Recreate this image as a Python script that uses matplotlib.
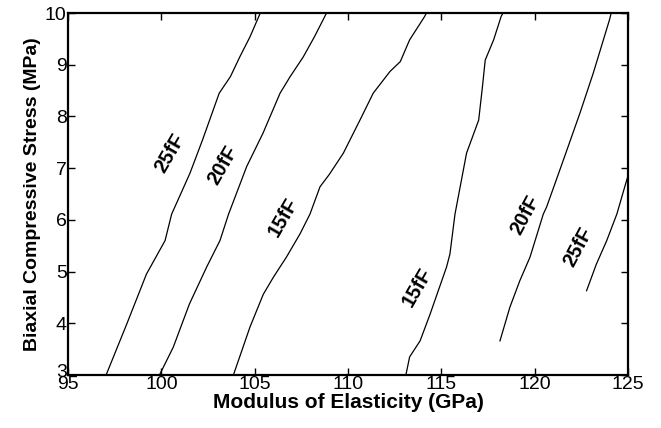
import matplotlib
matplotlib.use("Agg")
import matplotlib.pyplot as plt
from matplotlib.transforms import ScaledTranslation

plt.rcParams["font.family"] = ["Liberation Sans", "DejaVu Sans"]

# contour lines: (modulus GPa, stress MPa)
left_25_x = [97.04, 98.14, 99.2, 100.2, 100.55, 101.53, 102.2, 103.1, 103.7, 104.2, 104.75, 105.3]
left_25_y = [3.0, 3.98, 4.95, 5.6, 6.11, 6.90, 7.54, 8.45, 8.77, 9.15, 9.54, 10.0]

left_20_x = [99.9, 100.64, 101.5, 102.43, 103.14, 103.6, 104.57, 105.45, 106.36, 106.9, 107.6, 108.2, 108.85]
left_20_y = [3.0, 3.54, 4.37, 5.09, 5.6, 6.11, 7.03, 7.68, 8.45, 8.77, 9.15, 9.54, 10.0]

left_15_x = [103.86, 104.75, 105.46, 106.0, 106.7, 107.43, 107.96, 108.5, 109.0, 109.75, 110.64,
             111.35, 112.25, 112.8, 113.3, 114.1, 114.2]
left_15_y = [3.0, 3.93, 4.56, 4.89, 5.28, 5.73, 6.11, 6.64, 6.88, 7.29, 7.93,
             8.45, 8.87, 9.06, 9.48, 9.93, 10.0]

right_15_x = [113.1, 113.3, 113.86, 114.4, 115.28, 115.46, 115.73, 116.35, 117.0, 117.2, 117.35,
              117.8, 118.2, 118.3]
right_15_y = [3.0, 3.35, 3.66, 4.18, 5.09, 5.34, 6.11, 7.29, 7.93, 8.57, 9.09,
              9.48, 9.93, 10.0]

right_20_x = [118.14, 118.67, 119.2, 119.75, 120.46, 120.64, 121.53, 122.43, 123.14, 124.0, 124.1]
right_20_y = [3.66, 4.31, 4.82, 5.28, 6.11, 6.25, 7.15, 8.07, 8.84, 9.86, 10.0]

right_25_x = [122.78, 123.3, 123.86, 124.4, 124.93, 125.0]
right_25_y = [4.63, 5.14, 5.6, 6.11, 6.77, 6.85]

lines = [
    (left_25_x, left_25_y),
    (left_20_x, left_20_y),
    (left_15_x, left_15_y),
    (right_15_x, right_15_y),
    (right_20_x, right_20_y),
    (right_25_x, right_25_y),
]

# inline labels: text, x, y, rotation
label_text = ["25fF", "20fF", "15fF", "15fF", "20fF", "25fF"]
label_x = [100.46, 103.3, 106.52, 113.69, 119.48, 122.32]
label_y = [7.29, 7.06, 6.05, 4.70, 6.09, 5.47]
label_rot = [60, 60, 60, 60, 62, 62]

x_ticks = [95, 100, 105, 110, 115, 120, 125]
y_ticks = [3, 4, 5, 6, 7, 8, 9, 10]

fig = plt.figure(figsize=(6.61, 4.28), dpi=100)
ax = fig.add_axes([0.1029, 0.1238, 0.8472, 0.8458])

for xs, ys in lines:
    ax.plot(xs, ys, color="black", lw=0.9)

for t, x, y, r in zip(label_text, label_x, label_y, label_rot):
    ax.text(x, y, t, rotation=r, ha="center", va="center",
            fontsize=14.5, fontweight="bold")

ax.set_xlim(95, 125)
ax.set_ylim(3, 10)
ax.set_xticks(x_ticks)
ax.set_yticks(y_ticks)
ax.tick_params(direction="in", top=True, right=True, length=5, width=1,
               labelsize=14, pad=1)
for s in ax.spines.values():
    s.set_linewidth(1.6)

# lift the bottom "3" a touch so it sits just above the "95"
lbl3 = ax.get_yticklabels()[0]
lbl3.set_transform(lbl3.get_transform() + ScaledTranslation(0, 3 / 72, fig.dpi_scale_trans))

ax.set_xlabel("Modulus of Elasticity (GPa)", fontsize=15, fontweight="bold", labelpad=0)
ax.set_ylabel("Biaxial Compressive Stress (MPa)", fontsize=14, fontweight="bold", labelpad=3)

fig.savefig("out.png", dpi=100)
